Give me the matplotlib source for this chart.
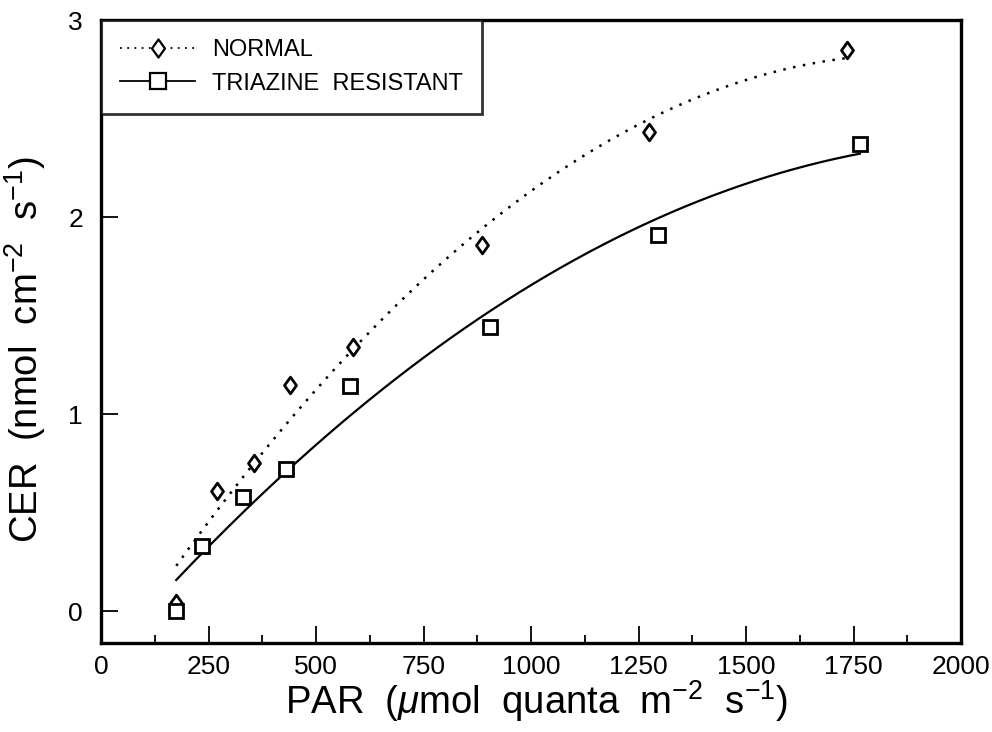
import numpy as np
import matplotlib
matplotlib.use("Agg")
from matplotlib import pyplot as plt
from matplotlib.path import Path

# Data
par_normal = [175, 270, 355, 440, 585, 885, 1275, 1735]
cer_normal = [0.04, 0.61, 0.75, 1.15, 1.34, 1.86, 2.43, 2.85]

par_resist = [175, 235, 330, 430, 580, 905, 1295, 1765]
cer_resist = [0.00, 0.33, 0.58, 0.72, 1.14, 1.44, 1.91, 2.37]

x_ticks = [0, 250, 500, 750, 1000, 1250, 1500, 1750, 2000]
y_ticks = [0, 1, 2, 3]

plt.rcParams['font.family'] = ['Liberation Sans', 'DejaVu Sans']
plt.rcParams['mathtext.fontset'] = 'custom'
plt.rcParams['mathtext.rm'] = 'Liberation Sans'
plt.rcParams['mathtext.it'] = 'Liberation Sans:italic'

fig = plt.figure(figsize=(9.92, 7.32), dpi=100)
ax = fig.add_axes([101 / 992, 1 - 643 / 732, (961 - 101) / 992, (643 - 20) / 732])

# tall diamond like the original symbol
diamond = Path([(0, 1), (0.72, 0), (0, -1), (-0.72, 0), (0, 1)],
               [Path.MOVETO, Path.LINETO, Path.LINETO, Path.LINETO, Path.CLOSEPOLY])

# Quadratic regression curves through each series
def fit_curve(x, y):
    c = np.polyfit(x, y, 2)
    xs = np.linspace(min(x), max(x), 200)
    return xs, np.polyval(c, xs)

xn, yn = fit_curve(par_normal, cer_normal)
xr, yr = fit_curve(par_resist, cer_resist)

dots = (0, (1, 3))
ax.plot(xn, yn, color='black', linestyle=dots, lw=1.8)
ax.plot(xr, yr, color='black', linestyle='-', lw=1.6)

ax.plot(par_normal, cer_normal, linestyle='none', marker=diamond, ms=12,
        mfc='white', mec='black', mew=2.0)
ax.plot(par_resist, cer_resist, linestyle='none', marker='s', ms=10,
        mfc='white', mec='black', mew=2.0)

# legend proxies
h1, = ax.plot([], [], color='black', linestyle=dots, lw=1.3,
              marker=diamond, ms=13, mfc='white', mec='black', mew=1.6)
h2, = ax.plot([], [], color='black', linestyle='-', lw=1.3,
              marker='s', ms=12, mfc='white', mec='black', mew=1.6)
leg = ax.legend([h1, h2], ['NORMAL', 'TRIAZINE  RESISTANT'], loc='upper left',
                fontsize=17, frameon=True, fancybox=False, borderaxespad=0,
                handlelength=3.2, borderpad=0.8, labelspacing=0.5,
                handletextpad=0.7)
leg.get_frame().set_edgecolor('black')
leg.get_frame().set_linewidth(2.0)

ax.set_xlim(0, 2000)
ax.set_ylim(-0.162, 3)
ax.set_xticks(x_ticks)
ax.set_xticks(np.arange(125, 2000, 250), minor=True)
ax.set_yticks(y_ticks)

ax.tick_params(axis='both', which='major', direction='in', length=12,
               width=1.3, labelsize=19)
ax.tick_params(axis='x', which='major', pad=9)
ax.tick_params(axis='y', which='major', pad=13)
ax.tick_params(axis='x', which='minor', direction='in', length=6, width=1.3)

for s in ax.spines.values():
    s.set_linewidth(2.4)

ax.set_xlabel(r'PAR  ($\mathit{\mu}$mol  quanta  m$^{-2}$  s$^{-1}$)', fontsize=27.5)
ax.set_ylabel(r'CER  (nmol  cm$^{-2}$  s$^{-1}$)', fontsize=27.5)
ax.xaxis.set_label_coords(0.506, -0.056)
ax.xaxis.label.set_va('top')
ax.yaxis.set_label_coords(-0.062, 0.47)

fig.savefig('out.png', dpi=100)
